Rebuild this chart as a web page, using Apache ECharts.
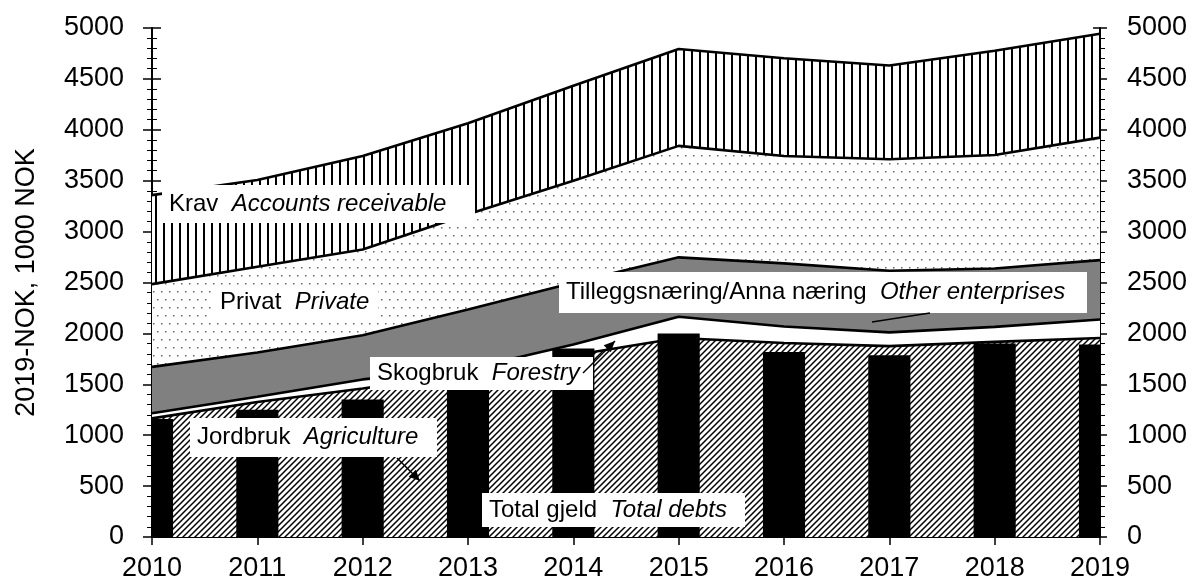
<!DOCTYPE html>
<html>
<head>
<meta charset="utf-8">
<script src="https://cdn.jsdelivr.net/npm/echarts@6/dist/echarts.min.js"></script>
<style>
  html, body { margin: 0; padding: 0; background: #fff; }
  #chart { width: 1193px; height: 583px; }
</style>
</head>
<body>
<div id="chart"></div>
<script>
// data (1000 NOK, 2019 prices), upper edge of each band
const years = ['2010', '2011', '2012', '2013', '2014', '2015', '2016', '2017', '2018', '2019'];
const agricultureTop = [1165, 1326, 1458, 1610, 1785, 1955, 1905, 1875, 1917, 1955];
const forestryTop = [1215, 1378, 1548, 1650, 1890, 2163, 2068, 2010, 2064, 2137];
const otherTop = [1671, 1812, 1982, 2235, 2497, 2747, 2688, 2615, 2638, 2720];
const privateTop = [2484, 2654, 2825, 3170, 3499, 3842, 3743, 3711, 3753, 3923];
const receivableTop = [3358, 3507, 3743, 4065, 4432, 4793, 4703, 4632, 4777, 4943];
const totalDebts = [1160, 1251, 1350, 1560, 1851, 1999, 1818, 1786, 1900, 1891];
const yTicks = [0, 5000, 500];

const FONT = '"Liberation Sans", Arial, sans-serif';

const makePattern = (w, h, draw) => {
    const c = document.createElement('canvas');
    c.width = w;
    c.height = h;
    const ctx = c.getContext('2d');
    ctx.fillStyle = '#fff';
    ctx.fillRect(0, 0, w, h);
    draw(ctx);
    return { image: c, repeat: 'repeat' };
};

const hatch = makePattern(6, 6, ctx => {
    ctx.strokeStyle = '#000';
    ctx.lineWidth = 1.5;
    ctx.beginPath();
    ctx.moveTo(-1, 7); ctx.lineTo(7, -1);
    ctx.moveTo(-1, 1); ctx.lineTo(1, -1);
    ctx.moveTo(5, 7); ctx.lineTo(7, 5);
    ctx.stroke();
});
const vlines = makePattern(8, 4, ctx => {
    ctx.fillStyle = '#000';
    ctx.fillRect(3, 0, 2, 4);
});
const dots = makePattern(8, 16, ctx => {
    ctx.fillStyle = '#666';
    ctx.fillRect(1, 3, 1.5, 1.5);
    ctx.fillRect(5, 11, 1.5, 1.5);
});

const areaSeries = (name, data, fill) => ({
    name,
    type: 'line',
    data,
    z: 2,
    symbol: 'none',
    lineStyle: { color: '#000', width: 2.6 },
    areaStyle: { color: fill, opacity: 1 },
});

const yAxisBase = (position, inside, withLabel) => ({
    type: 'value',
    position,
    min: yTicks[0],
    max: yTicks[1],
    interval: yTicks[2],
    splitLine: { show: false },
    axisLine: { show: withLabel, lineStyle: { color: '#000', width: 2 } },
    axisTick: { show: true, inside, length: position === 'left' ? 9 : 7, lineStyle: { color: '#000', width: 1.5 } },
    minorTick: { show: true, splitNumber: 5, length: 5, lineStyle: { color: '#000', width: 1 } },
    axisLabel: {
        show: withLabel,
        color: '#000',
        fontSize: 27,
        fontFamily: FONT,
        margin: position === 'left' ? 28 : 27,
        formatter: v => String(v),
    },
});

// bars clipped to the plot, so the 2010 and 2019 bars show only half
const renderBar = (params, api) => {
    const top = api.coord([api.value(0), api.value(1)]);
    const base = api.coord([api.value(0), 0]);
    const w = api.size([1, 0])[0] * 0.4;
    const cs = params.coordSys;
    const shape = echarts.graphic.clipRectByRect(
        { x: top[0] - w / 2, y: top[1], width: w, height: base[1] - top[1] },
        { x: cs.x, y: cs.y, width: cs.width, height: cs.height }
    );
    return shape && { type: 'rect', shape, style: { fill: '#000' } };
};

// annotations, pixel boxes
const labels = [
    { box: [162, 185, 313, 38], norm: 'Krav', ital: 'Accounts receivable' },
    { box: [213, 287, 165, 30], norm: 'Privat', ital: 'Private' },
    { box: [559, 272, 528, 41], norm: 'Tilleggsnæring/Anna næring', ital: 'Other enterprises' },
    { box: [370, 357, 223, 33], norm: 'Skogbruk', ital: 'Forestry' },
    { box: [190, 418, 247, 39], norm: 'Jordbruk', ital: 'Agriculture' },
    { box: [482, 493, 263, 34], norm: 'Total gjeld', ital: 'Total debts' },
];
const pointers = [
    { from: [397, 458], to: [420, 481], head: true },
    { from: [583, 373], to: [615, 341], head: true },
    { from: [872, 322], to: [930, 313], head: false },
];

const graphics = [];
labels.forEach(l => {
    const [x, y, w, h] = l.box;
    graphics.push({ type: 'rect', z: 100, shape: { x, y, width: w, height: h }, style: { fill: '#fff' } });
    graphics.push({
        type: 'text',
        z: 101,
        x: x + 7,
        y: y + h / 2,
        style: {
            text: `{n|${l.norm}}  {i|${l.ital}}`,
            fontSize: 24,
            fontFamily: FONT,
            fill: '#000',
            verticalAlign: 'middle',
            align: 'left',
            rich: {
                n: { fontSize: 24, fontFamily: FONT, fill: '#000' },
                i: { fontSize: 24, fontFamily: FONT, fontStyle: 'italic', fill: '#000' },
            },
        },
    });
});
pointers.forEach(p => {
    const [x1, y1] = p.from;
    const [x2, y2] = p.to;
    graphics.push({ type: 'line', z: 100, shape: { x1, y1, x2, y2 }, style: { stroke: '#000', lineWidth: 1.5 } });
    if (p.head) {
        const len = Math.hypot(x2 - x1, y2 - y1);
        const dx = (x2 - x1) / len, dy = (y2 - y1) / len;
        const L = 11, W = 5;
        graphics.push({
            type: 'polygon',
            z: 100,
            shape: { points: [[x2, y2], [x2 - L * dx - W * dy, y2 - L * dy + W * dx], [x2 - L * dx + W * dy, y2 - L * dy - W * dx]] },
            style: { fill: '#000' },
        });
    }
});

const chart = echarts.init(document.getElementById('chart'));
chart.setOption({
    animation: false,
    backgroundColor: '#fff',
    grid: [
        { left: 152, right: 93, top: 28, bottom: 46 },
        { left: 152, right: 93, top: 28, bottom: 46 },
    ],
    xAxis: [
        {
            type: 'category',
            gridIndex: 0,
            data: years,
            boundaryGap: false,
            axisLine: { lineStyle: { color: '#000', width: 2 } },
            axisTick: { show: true, length: 8, alignWithLabel: true, lineStyle: { color: '#000', width: 1.5 } },
            axisLabel: { color: '#000', fontSize: 27, fontFamily: FONT, margin: 18, interval: 0 },
            splitLine: { show: false },
        },
        { type: 'category', gridIndex: 1, data: years, boundaryGap: false, show: false },
    ],
    yAxis: [
        Object.assign(yAxisBase('left', false, true), {
            gridIndex: 0,
            name: '2019-NOK, 1000 NOK',
            nameLocation: 'middle',
            nameGap: 112,
            nameTextStyle: { color: '#000', fontSize: 27, fontFamily: FONT },
        }),
        Object.assign(yAxisBase('right', false, true), { gridIndex: 0 }),
        Object.assign(yAxisBase('left', true, false), { gridIndex: 1 }),
        Object.assign(yAxisBase('right', true, false), { gridIndex: 1 }),
    ],
    series: [
        areaSeries('Krav', receivableTop, vlines),
        areaSeries('Privat', privateTop, dots),
        areaSeries('Tilleggsnæring/Anna næring', otherTop, '#808080'),
        areaSeries('Skogbruk', forestryTop, '#fff'),
        areaSeries('Jordbruk', agricultureTop, hatch),
        {
            name: 'Total gjeld',
            type: 'custom',
            z: 5,
            renderItem: renderBar,
            encode: { x: 0, y: 1 },
            data: totalDebts.map((v, i) => [i, v]),
        },
    ],
    graphic: graphics,
});
</script>
</body>
</html>
